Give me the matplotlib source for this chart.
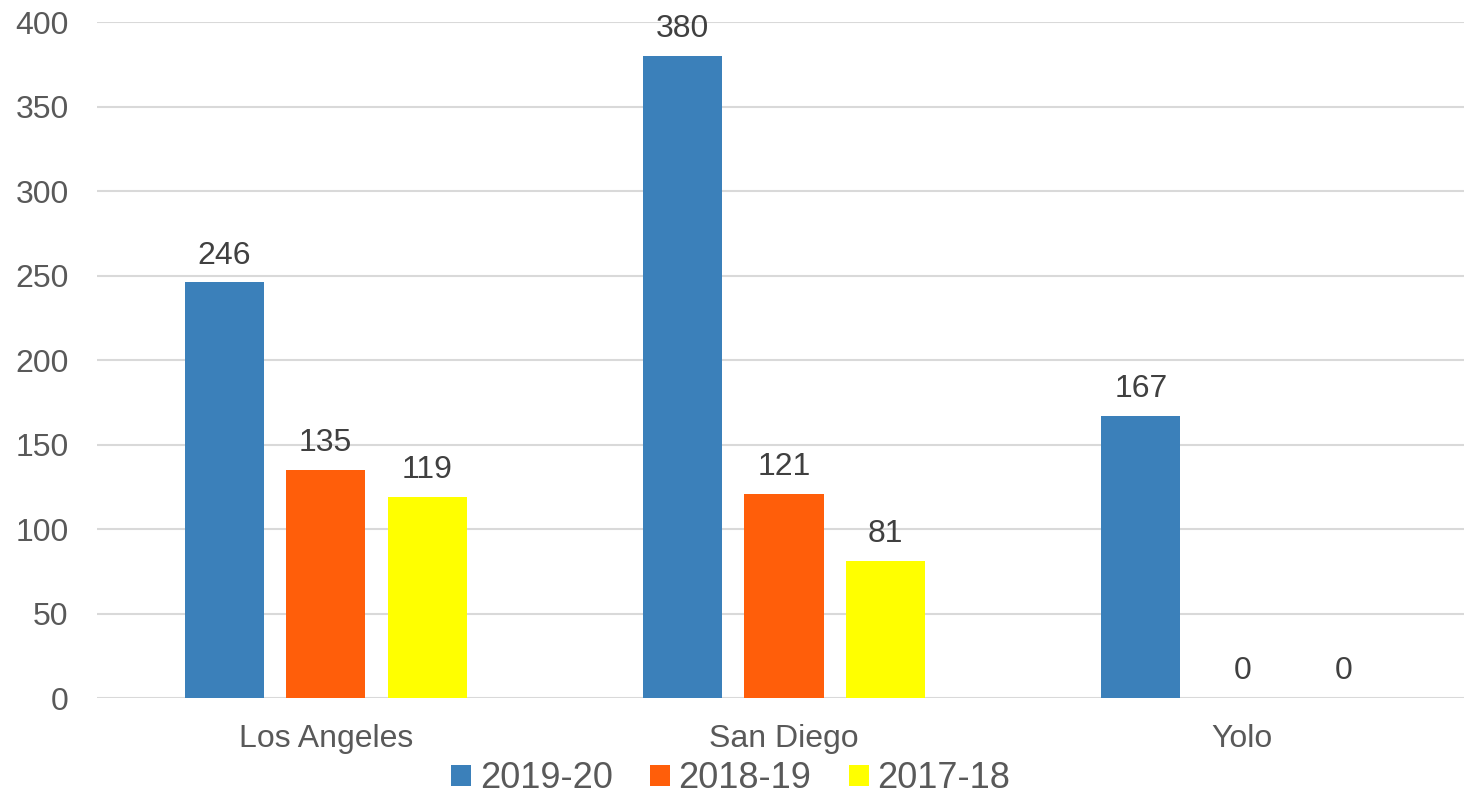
import numpy as np
import matplotlib.pyplot as plt

plt.rcParams['font.family'] = ['Liberation Sans', 'DejaVu Sans']

counties = ['Los Angeles', 'San Diego', 'Yolo']
seasons = ['2019-20', '2018-19', '2017-18']
vals_1920 = [246, 380, 167]
vals_1819 = [135, 121, 0]
vals_1718 = [119, 81, 0]
colors = ['#3B80BA', '#FF5E0A', '#FFFF00']

txt = '#595959'
fig = plt.figure(figsize=(14.64, 7.96), dpi=100)
# plot area runs off the right edge, like the original
ax = fig.add_axes([96.5 / 1464, 0.123, 1375 / 1464, 0.849])

x = np.arange(len(counties))
w = 0.1725
step = 0.2216
for i, (vals, lab) in enumerate(zip([vals_1920, vals_1819, vals_1718], seasons)):
    pos = x + (i - 1) * step
    ax.bar(pos, vals, width=w, color=colors[i], label=lab, zorder=3)
    for p, v in zip(pos, vals):
        ax.annotate(str(v), (p, v), xytext=(0, 8.5), textcoords='offset points',
                    ha='center', va='bottom', fontsize=23, color='#404040')

ax.set_xlim(-0.5, 2.5)
ax.set_ylim(0, 400)
ax.set_yticks(range(0, 401, 50))
ax.set_xticks(x)
ax.set_xticklabels(counties)
ax.tick_params(axis='both', length=0, labelsize=23, colors=txt)
ax.tick_params(axis='y', pad=20)
ax.tick_params(axis='x', pad=19)
ax.yaxis.grid(True, color='#d9d9d9', linewidth=1.5, zorder=0)
for s in ax.spines.values():
    s.set_visible(False)

leg = fig.legend(loc='center', bbox_to_anchor=(0.4993, 0.0214), ncol=3, frameon=False,
                 fontsize=26, handlelength=0.53, handleheight=0.5, handletextpad=0.25,
                 columnspacing=1.05, borderpad=0, borderaxespad=0)
for t in leg.get_texts():
    t.set_color(txt)

fig.savefig('out.png', dpi=100)
